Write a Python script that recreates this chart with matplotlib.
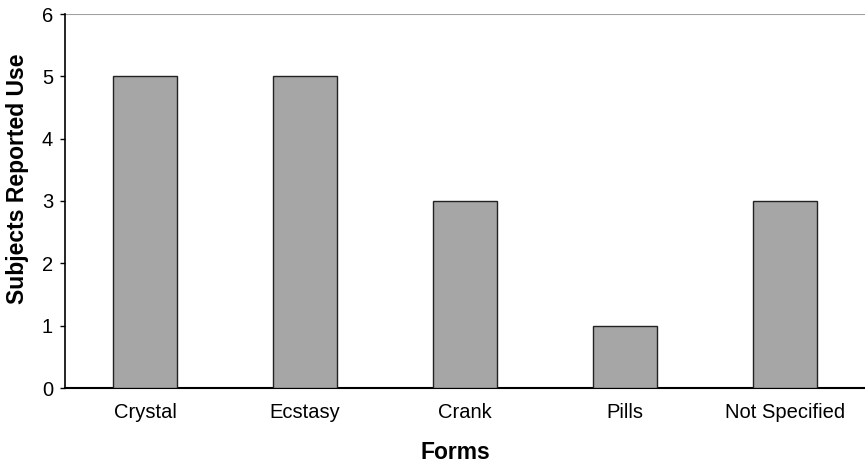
import matplotlib
matplotlib.use("Agg")
import matplotlib.pyplot as plt

plt.rcParams['font.family'] = ['Liberation Sans', 'DejaVu Sans']

forms = ["Crystal", "Ecstasy", "Crank", "Pills", "Not Specified"]
subjects = [5, 5, 3, 1, 3]
yticks = [0, 1, 2, 3, 4, 5, 6]

fig = plt.figure(figsize=(8.65, 4.63), dpi=100)
ax = fig.add_axes([65 / 865, 1 - 388 / 463, 800 / 865, (388 - 14) / 463])

x = list(range(len(forms)))
ax.bar(x, subjects, width=0.4, color="#a6a6a6", edgecolor="#222222", linewidth=1.0, zorder=3)

ax.set_xlim(-0.5, len(forms) - 0.5)
ax.set_ylim(0, 6)
ax.set_yticks(yticks)
ax.set_xticks(x)
ax.set_xticklabels(forms, fontsize=14.5)
ax.tick_params(axis="y", labelsize=14.5, length=3.6, width=1, direction="out", pad=5)
ax.tick_params(axis="x", length=0, pad=11)

ax.axhline(6, color="#a0a0a0", linewidth=1.5, zorder=1)
for side in ("top", "right"):
    ax.spines[side].set_visible(False)
ax.spines["left"].set_linewidth(1.2)
ax.spines["bottom"].set_linewidth(1.5)

ax.set_xlabel("Forms", fontsize=16.5, fontweight="bold")
ax.set_ylabel("Subjects Reported Use", fontsize=16.5, fontweight="bold")
ax.xaxis.set_label_coords(0.4875, -0.141)
ax.yaxis.set_label_coords(-0.045, 0.559)

fig.savefig("out.png", dpi=100)
